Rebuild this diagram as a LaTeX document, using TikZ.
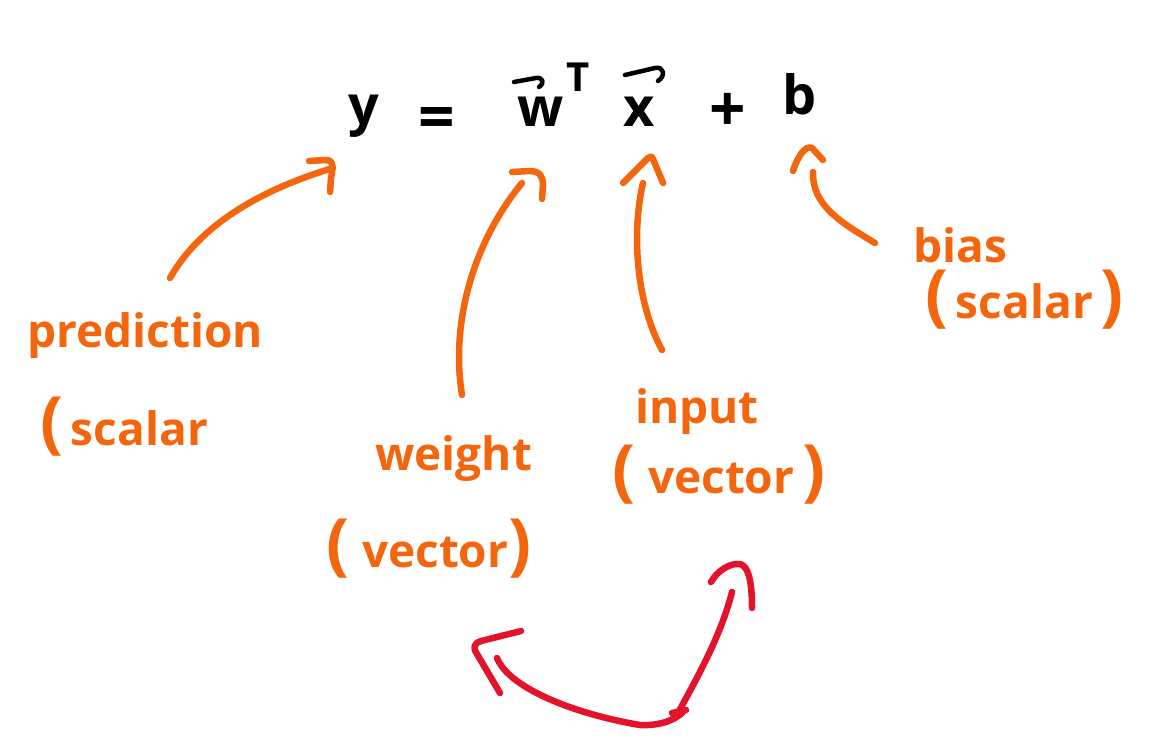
\documentclass[tikz,border=0pt]{standalone}
\usepackage{fontspec}
\setmainfont{Open Sans}
\definecolor{hand}{HTML}{F4660E}
\definecolor{hred}{HTML}{E3132C}
\newcommand\handparen[1]{{\fontsize{68}{68}\selectfont #1}}
\begin{document}
\begin{tikzpicture}[x=1pt,y=-1pt,
  stroke/.style={line width=6.5pt, line cap=round, line join=round},
  ostroke/.style={stroke, draw=hand},
  rstroke/.style={stroke, draw=hred},
  kstroke/.style={line width=4.5pt, line cap=round, line join=round, draw=black},
  eq/.style={anchor=base, inner sep=0pt, font=\fontsize{54}{56}\selectfont\bfseries},
  eqop/.style={eq, font=\fontsize{64}{66}\selectfont\bfseries},
  lab/.style={anchor=base west, inner sep=0pt, text=hand, font=\fontsize{46}{50}\selectfont\bfseries}]
\useasboundingbox (0,0) rectangle (1153,754);
% equation
\node[eq] (y) at (364,125) {y};
\node[eqop] (eqs) at (437,140) {=};
\node[eq] (w) at (541,127) {w};
\node[eq, font=\fontsize{40}{42}\selectfont\bfseries] (T) at (578,92) {T};
\node[eq] (x) at (639,127) {x};
\node[eqop] (plus) at (728,132) {+};
\node[eq] (b) at (800,115) {b};
\draw[kstroke] (514,82) -- (536,78) .. controls (543,77) and (545,83) .. (539,87);
\draw[kstroke] (625,75) -- (655,68) .. controls (664,66) and (666,76) .. (658,81);
% labels
\node[lab] (pred) at (27,347) {prediction};
\node[lab] (preds) at (40,445) {\handparen{(}\,scalar};
\node[lab] (wt) at (375,470) {weight};
\node[lab] (wtv) at (326,567) {\handparen{(}\;vector\handparen{)}};
\node[lab] (inp) at (635,423) {input};
\node[lab] (inpv) at (612,493) {\handparen{(}\;vector\,\handparen{)}};
\node[lab] (bias) at (913,262) {bias};
\node[lab] (biass) at (925,318) {\handparen{(}\,scalar\,\handparen{)}};
% connector end points
\coordinate (p0) at (170,278); \coordinate (p1) at (333,168);
\coordinate (w0) at (462,395); \coordinate (w1) at (522,183);
\coordinate (i0) at (662,350); \coordinate (i1) at (643,183);
\coordinate (b0) at (875,243); \coordinate (b1) at (813,172);
% orange arrows
\draw[ostroke] (p0) .. controls (200,225) and (260,190) .. (p1);
\draw[ostroke] (309,161) -- (326,160) .. controls (334,160) and (333,168) .. (331,178) -- (330,192);
\draw[ostroke] (w0) .. controls (450,320) and (475,240) .. (w1);
\draw[ostroke] (512,172) -- (530,171) .. controls (540,171) and (543,177) .. (543,185) -- (542,199);
\draw[ostroke] (i0) .. controls (635,300) and (632,230) .. (i1);
\draw[ostroke] (623,183) -- (648,158) .. controls (650,156) and (652,156) .. (653,159) -- (663,183);
\draw[ostroke] (b0) .. controls (840,222) and (812,205) .. (b1);
\draw[ostroke] (793,171) .. controls (798,155) and (806,145) .. (812,148) -- (823,160);
% red double arrow
\coordinate (r0) at (497,658); \coordinate (rm) at (683,712);
\coordinate (r2) at (677,715); \coordinate (r3) at (732,592);
\draw[rstroke] (r0) .. controls (510,690) and (580,715) .. (640,725) .. controls (660,726) and (675,720) .. (rm);
\draw[rstroke] (r2) .. controls (690,690) and (720,640) .. (r3);
\draw[rstroke] (672,713) -- (686,710);
\draw[rstroke] (521,631) -- (481,641) .. controls (473,644) and (473,648) .. (477,654) -- (500,693);
\draw[rstroke] (711,582) .. controls (718,570) and (730,563) .. (740,564) .. controls (748,566) and (752,580) .. (752,608);
\end{tikzpicture}
\end{document}
